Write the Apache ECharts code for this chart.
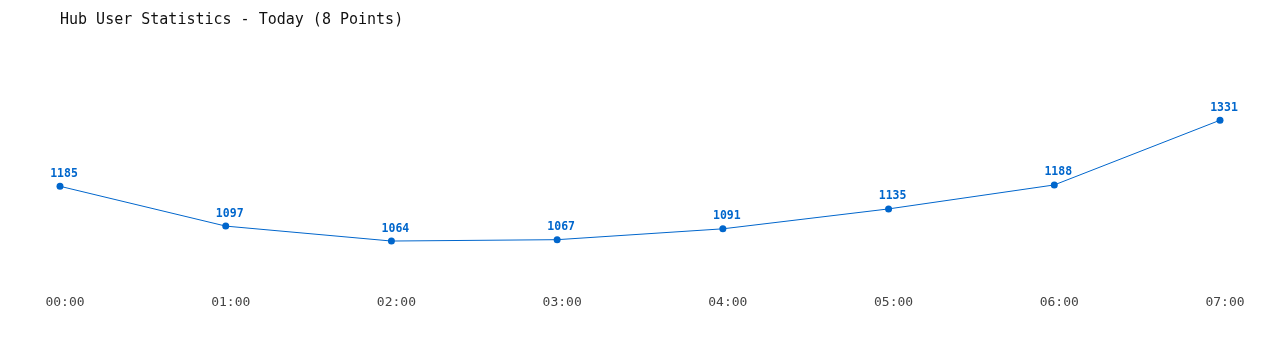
<!DOCTYPE html>
<html><head><meta charset="utf-8">
<script src="https://cdn.jsdelivr.net/npm/echarts@6/dist/echarts.min.js"></script>
<style>html,body{margin:0;padding:0;background:#fff}#c{width:1280px;height:350px}</style>
</head><body><div id="c"></div>
<script>
const categories = ['00:00','01:00','02:00','03:00','04:00','05:00','06:00','07:00'];
const users = [1185, 1097, 1064, 1067, 1091, 1135, 1188, 1331];
const chart = echarts.init(document.getElementById('c'));
chart.setOption({
  animation: false,
  title: {
    text: 'Hub User Statistics - Today (8 Points)',
    left: 55, top: 8,
    textStyle: { fontFamily: 'DejaVu Sans Mono, monospace', fontSize: 15, fontWeight: 'normal', color: '#111' }
  },
  grid: { left: 60, right: 60, top: 89, bottom: 80 },
  xAxis: {
    type: 'category', data: categories, boundaryGap: false,
    axisLine: { show: false }, axisTick: { show: false },
    axisLabel: { margin: 26, padding: [0,0,0,10], fontFamily: 'DejaVu Sans Mono, monospace', fontSize: 13, color: '#444' }
  },
  yAxis: {
    type: 'value', min: 1000, max: 1400, show: false, splitLine: { show: false }
  },
  series: [{
    type: 'line', data: users,
    symbol: 'circle', symbolSize: 7,
    lineStyle: { color: '#0066cc', width: 1 },
    itemStyle: { color: '#0066cc' },
    label: { show: true, position: 'top', distance: 3, offset: [4, 0], color: '#0066cc', fontWeight: 'bold', fontFamily: 'DejaVu Sans Mono, monospace', fontSize: 11.5 }
  }]
});
</script></body></html>
